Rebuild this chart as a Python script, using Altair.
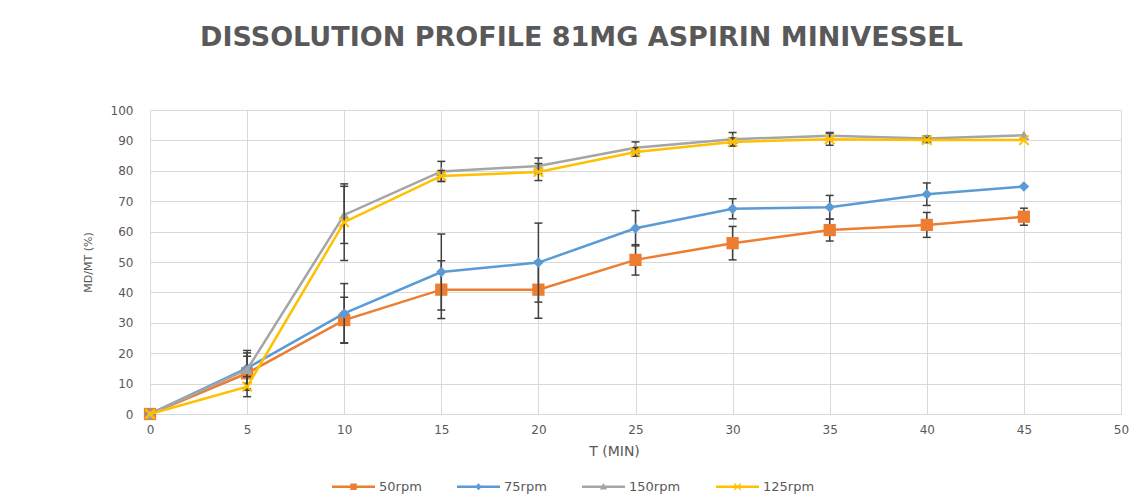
import altair as alt
import pandas as pd

# ---- data ----
t_min = [0, 5, 10, 15, 20, 25, 30, 35, 40, 45]
series_names = ["50rpm", "75rpm", "150rpm", "125rpm"]

rpm50 = [0, 13.4, 30.9, 40.9, 40.9, 50.7, 56.2, 60.5, 62.2, 64.9]
rpm75 = [0, 15.1, 33.1, 46.7, 49.8, 61.1, 67.5, 68.0, 72.3, 74.8]
rpm150 = [0, 14.6, 65.5, 79.8, 81.6, 87.6, 90.4, 91.5, 90.6, 91.7]
rpm125 = [0, 9.0, 63.1, 78.3, 79.6, 86.2, 89.5, 90.4, 90.1, 90.1]

err50 = [0, 5.6, 7.5, 9.5, 9.4, 5.0, 5.5, 3.6, 4.1, 2.8]
err75 = [0, 5.0, 9.8, 12.5, 13.0, 5.8, 3.3, 3.9, 3.7, 0]
err150 = [0, 6.3, 9.4, 3.3, 2.6, 1.9, 2.2, 1.1, 0.8, 0]
err125 = [0, 3.3, 12.6, 1.8, 2.8, 1.4, 1.3, 2.0, 0.8, 0]

colors = ["#ED7D31", "#5B9BD5", "#A5A5A5", "#FFC000"]
x_ticks = [0, 5, 10, 15, 20, 25, 30, 35, 40, 45, 50]
y_ticks = [0, 10, 20, 30, 40, 50, 60, 70, 80, 90, 100]

# ---- styles ----
FONT = "DejaVu Sans"
TXT = "#595959"
GRID = "#D9D9D9"
ERR = "#404040"

marker_styles = [
    dict(shape="square", filled=True, size=150),
    dict(shape="diamond", filled=True, size=110),
    dict(shape="triangle-up", filled=True, size=120),
    dict(shape="M-1,-1L1,1M1,-1L-1,1", filled=False, size=90, strokeWidth=2),
]
# legend symbols: line with marker in the middle
bar = "M-1,-0.06H1V0.06H-1Z "
legend_paths = [
    bar + "M-0.15,-0.15H0.15V0.15H-0.15Z",
    bar + "M0,-0.16L0.16,0L0,0.16L-0.16,0Z",
    bar + "M0,-0.17L0.17,0.13H-0.17Z",
    bar + "M-0.17,-0.13L-0.13,-0.17L0.17,0.13L0.13,0.17Z "
    "M0.13,-0.17L0.17,-0.13L-0.13,0.17L-0.17,0.13Z",
]

rows = []
for name, vals, errs in zip(series_names, [rpm50, rpm75, rpm150, rpm125],
                            [err50, err75, err150, err125]):
    for t, v, e in zip(t_min, vals, errs):
        rows.append({"t": t, "value": v, "err": e, "lo": v - e, "hi": v + e,
                     "series": name})
df = pd.DataFrame(rows)

xscale = alt.Scale(domain=[0, 50], nice=False, zero=False)
yscale = alt.Scale(domain=[0, 100], nice=False)
xaxis = alt.Axis(values=x_ticks, title="T (MIN)", grid=True, domain=False,
                 ticks=False, labelPadding=10, titlePadding=9, titleX=464,
                 labelFlush=False)
yaxis = alt.Axis(values=y_ticks, title="MD/MT (%)", grid=True, domain=False,
                 ticks=False, labelPadding=17, titlePadding=17, labelFlush=False)


def X(f="t"):
    return alt.X(f"{f}:Q", scale=xscale, axis=xaxis)


def Y(f="value"):
    return alt.Y(f"{f}:Q", scale=yscale, axis=yaxis)


base = alt.Chart(df)
layers = []
for name, col, ms in zip(series_names, colors, marker_styles):
    s = base.transform_filter(alt.datum.series == name)
    line = s.mark_line(color=col, strokeWidth=2.5).encode(x=X(), y=Y())
    eb = s.transform_filter(alt.datum.err > 0)
    rule = eb.mark_rule(color=ERR, strokeWidth=1.5).encode(
        x=X(), y=Y("lo"), y2="hi:Q")
    cap_lo = eb.mark_rule(color=ERR, strokeWidth=1.5, xOffset=-4, x2Offset=4).encode(
        x=X(), x2="t:Q", y=Y("lo"))
    cap_hi = eb.mark_rule(color=ERR, strokeWidth=1.5, xOffset=-4, x2Offset=4).encode(
        x=X(), x2="t:Q", y=Y("hi"))
    pts = s.mark_point(color=col, opacity=1, **ms).encode(x=X(), y=Y())
    layers += [line, rule, cap_lo, cap_hi, pts]

legend_layer = base.transform_filter("false").mark_point(
    filled=True, opacity=1, size=1849).encode(
    x=X(), y=Y(),
    color=alt.Color("series:N", scale=alt.Scale(domain=series_names, range=colors),
                    legend=alt.Legend(title=None)),
    shape=alt.Shape("series:N", scale=alt.Scale(domain=series_names, range=legend_paths),
                    legend=alt.Legend(title=None)),
)
layers.append(legend_layer)

chart = alt.layer(*layers).properties(
    width=971, height=304,
    autosize=alt.AutoSizeParams(type="none"),
    padding={"left": 142, "top": 102, "right": 17, "bottom": 89},
    title=alt.TitleParams(
        "DISSOLUTION  PROFILE 81MG ASPIRIN MINIVESSEL",
        font=FONT, fontSize=27, fontWeight="bold", color=TXT,
        anchor="middle", dx=-54, offset=52),
).configure_view(stroke=None).configure_axis(
    gridColor=GRID, gridWidth=1, labelFont=FONT, labelFontSize=12,
    labelColor=TXT, titleFont=FONT, titleColor=TXT, titleFontWeight="normal",
).configure_axisX(titleFontSize=14).configure_axisY(titleFontSize=11).configure_legend(
    orient="none", legendX=182, legendY=355, direction="horizontal",
    symbolSize=1849, labelFont=FONT, labelFontSize=13, labelColor=TXT,
    labelOffset=4, columnPadding=35, symbolStrokeWidth=0,
)

chart.save("out.html", embed_options={"renderer": "svg", "actions": False})
